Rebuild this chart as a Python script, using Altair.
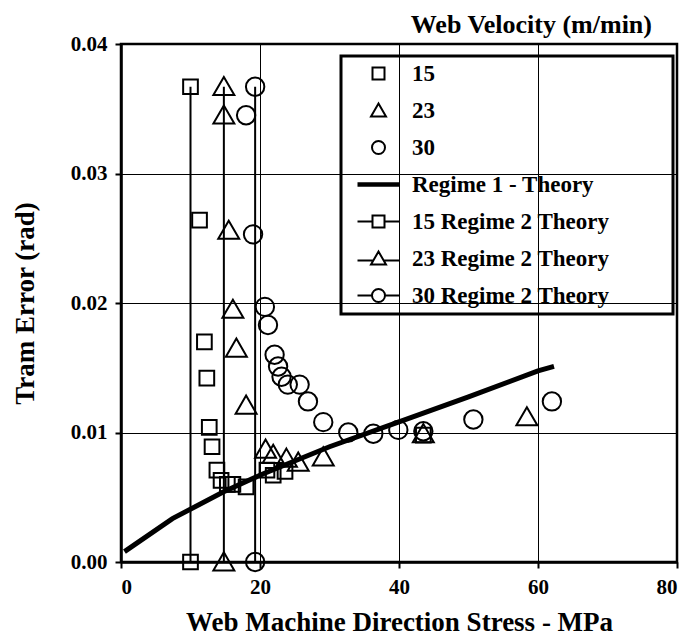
import altair as alt
import pandas as pd

# ---- data ----
sq_x = [11.3, 12.0, 12.35, 12.7, 13.1, 13.8, 14.4, 15.3, 16.1, 18.0, 21.0, 21.9, 23.6, 43.5]
sq_y = [0.0264, 0.0170, 0.0142, 0.0104, 0.0089, 0.0071, 0.0063, 0.0060, 0.0060, 0.0058, 0.0071, 0.0067, 0.0070, 0.0098]

tri_x = [14.8, 15.5, 16.1, 16.6, 18.0, 20.8, 21.9, 23.8, 25.5, 29.1, 43.5, 58.4]
tri_y = [0.0345, 0.0256, 0.0195, 0.0165, 0.0121, 0.0087, 0.0083, 0.0080, 0.0077, 0.0081, 0.0099, 0.0112]

cir_x = [18.0, 19.0, 20.7, 21.15, 22.1, 22.6, 23.1, 24.0, 25.7, 26.9, 29.1, 32.7, 36.3, 39.9, 43.5, 50.7, 62.0]
cir_y = [0.0345, 0.0253, 0.0197, 0.0183, 0.0160, 0.0151, 0.0143, 0.0137, 0.0137, 0.0124, 0.0108, 0.0100, 0.0099, 0.0102, 0.0101, 0.0110, 0.0124]

r1_x = [0.5, 7.4, 14.7, 20.4, 30.0, 39.9, 50.0, 60.0, 62.3]
r1_y = [0.0008, 0.00335, 0.0054, 0.0068, 0.0089, 0.0108, 0.01275, 0.01476, 0.0151]

r2_series = ["15", "23", "30"]
r2_x = [10.0, 14.8, 19.3]
r2_low = [0.0, 0.0, 0.0]
r2_high = [0.0367, 0.0367, 0.0367]

legend_labels = ["15", "23", "30", "Regime 1 - Theory",
                 "15 Regime 2 Theory", "23 Regime 2 Theory", "30 Regime 2 Theory"]

x_ticks = [0, 20, 40, 60, 80]
y_ticks = [0.0, 0.01, 0.02, 0.03, 0.04]

# symbol paths (unit frame)
SQ = "M-0.6,-0.6H0.6V0.6H-0.6Z"
TR = "M0,-0.7L0.75,0.6H-0.75Z"
CI = "M0.65,0A0.65,0.65 0 1,1 -0.65,0A0.65,0.65 0 1,1 0.65,0Z"
shape_paths = [
    SQ, TR, CI,
    "M-2.1,-0.12H2.1M-2.1,0H2.1M-2.1,0.12H2.1",
    "M-2.1,0H-0.6M0.6,0H2.1" + SQ,
    "M-2.1,0.2H-0.52M0.52,0.2H2.1" + TR,
    "M-2.1,0H-0.65M0.65,0H2.1" + CI,
]

# ---- tables ----
pts = pd.concat([
    pd.DataFrame({"x": sq_x + [r2_x[0], r2_x[0]], "y": sq_y + [r2_low[0], r2_high[0]], "series": "15"}),
    pd.DataFrame({"x": tri_x + [r2_x[1], r2_x[1]], "y": tri_y + [r2_low[1], r2_high[1]], "series": "23"}),
    pd.DataFrame({"x": cir_x + [r2_x[2], r2_x[2]], "y": cir_y + [r2_low[2], r2_high[2]], "series": "30"}),
], ignore_index=True)
r1 = pd.DataFrame({"x": r1_x, "y": r1_y})
r2 = pd.DataFrame({"x": r2_x, "y": r2_low, "y2": r2_high, "series": r2_series})

FONT = "Liberation Serif"
# trailing non-breaking spaces (kept by a zero-width space) widen the legend frame
LABEL_PAD = "\u00a0" * 10 + "\u200b"

xenc = alt.X("x:Q", scale=alt.Scale(domain=[0, 80], nice=False),
             axis=alt.Axis(values=x_ticks, title="Web Machine Direction Stress - MPa",
                           format="d", titlePadding=12))
yenc = alt.Y("y:Q", scale=alt.Scale(domain=[0, 0.04], nice=False),
             axis=alt.Axis(values=y_ticks, title="Tram Error (rad)", format=".2f",
                           titlePadding=31))

shape_enc = alt.Shape("series:N",
                      scale=alt.Scale(domain=legend_labels, range=shape_paths),
                      legend=alt.Legend(title=None, orient="none", legendX=220, legendY=12,
                                        strokeColor="black", padding=6, rowPadding=13,
                                        symbolOffset=20, labelOffset=22,
                                        symbolSize=400, symbolStrokeWidth=2,
                                        symbolStrokeColor="black", symbolFillColor="transparent",
                                        symbolOpacity=1, labelFont=FONT, labelFontSize=23,
                                        labelFontWeight="bold", labelColor="black",
                                        labelLimit=500,
                                        labelExpr=f"datum.label + '{LABEL_PAD}'"))

line1 = alt.Chart(r1).mark_line(color="black", strokeWidth=5, strokeCap="butt").encode(x=xenc, y=yenc)
rules = alt.Chart(r2).mark_rule(color="black", strokeWidth=2).encode(x=xenc, y=yenc, y2="y2:Q")

def pts_layer(ser, size):
    return alt.Chart(pts).transform_filter(alt.datum.series == ser).mark_point(
        filled=False, color="black", strokeWidth=2, opacity=1, size=size
    ).encode(x=xenc, y=yenc, shape=shape_enc)

chart = alt.layer(line1, rules, pts_layer("15", 600), pts_layer("23", 780), pts_layer("30", 800)).properties(
    width=556, height=518,
    autosize=alt.AutoSizeParams(type="none"),
    padding={"left": 113, "top": 36, "right": 8, "bottom": 80},
    title=alt.TitleParams("Web Velocity (m/min)", anchor="end", frame="group", dx=-25, offset=-5,
                          font=FONT, fontSize=26, fontWeight="bold", color="black"),
).configure_view(stroke="black", strokeWidth=2.5).configure_axis(
    domainColor="black", domainWidth=2.5, gridColor="black", gridWidth=1, gridOpacity=1,
    tickColor="black", tickWidth=2, tickSize=6, labelPadding=8,
    labelFont=FONT, labelFontSize=21, labelFontWeight="bold", labelColor="black",
    titleFont=FONT, titleFontSize=27, titleFontWeight="bold", titleColor="black",
).configure_legend(strokeWidth=3)

chart.save("out.html", embed_options={"renderer": "svg", "actions": False})
